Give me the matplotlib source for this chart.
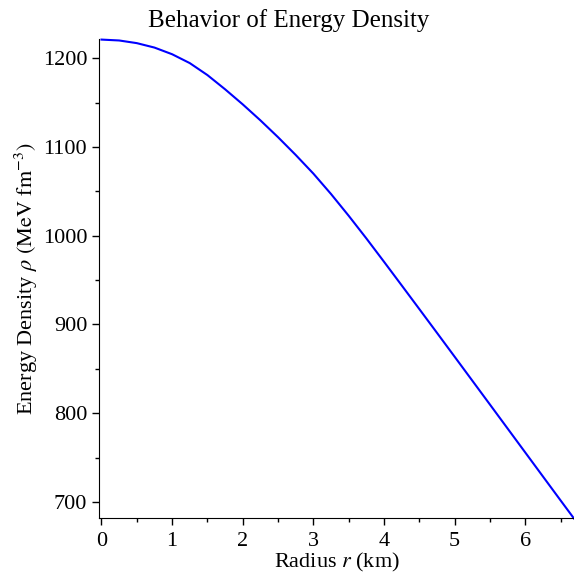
import matplotlib
matplotlib.use("Agg")
import matplotlib.pyplot as plt
from matplotlib.ticker import MultipleLocator

# radius (km) and energy density (MeV fm^-3)
radius = [0.0, 0.25, 0.5, 0.75, 1.0, 1.25, 1.5, 1.75, 2.0, 2.25, 2.5, 2.75,
          3.0, 3.25, 3.5, 3.75, 4.0, 4.25, 4.5, 4.75, 5.0, 5.5, 6.0, 6.5, 6.69]
rho = [1221, 1220, 1217, 1212, 1204.5, 1194.5, 1181, 1165, 1148, 1130, 1111, 1091,
       1070, 1047, 1022.5, 997, 970.7, 944.1, 917.4, 890.6, 863.7, 809.8, 755.8, 701.8, 681.4]

plt.rcParams["font.family"] = ["Liberation Serif", "DejaVu Serif"]
plt.rcParams["mathtext.fontset"] = "stix"

fig = plt.figure(figsize=(5.74, 5.73), dpi=100)
ax = fig.add_axes([0.1725, 0.096, 0.8275, 0.836])

ax.plot(radius, rho, color="#0000ff", lw=1.5, clip_on=False)

ax.set_xlim(-0.035, 6.69)
ax.set_ylim(682, 1221.7)

ax.spines["top"].set_visible(False)
ax.spines["right"].set_visible(False)
ax.xaxis.set_major_locator(MultipleLocator(1))
ax.xaxis.set_minor_locator(MultipleLocator(0.5))
ax.yaxis.set_major_locator(MultipleLocator(100))
ax.yaxis.set_minor_locator(MultipleLocator(50))
ax.tick_params(which="major", direction="out", length=5, width=1, labelsize=16)
ax.tick_params(which="minor", direction="out", length=3, width=1)
ax.tick_params(axis="x", pad=5)

fig.text(0.503, 0.985, "Behavior of Energy Density", fontsize=18, ha="center", va="top")
ax.set_xlabel(r"Radius $r$ (km)", fontsize=16, labelpad=0)
ax.set_ylabel(r"Energy Density $\rho$ $\left(\mathrm{MeV\ fm}^{-3}\right)$", fontsize=16, labelpad=2)

fig.savefig("out.png", dpi=100)
